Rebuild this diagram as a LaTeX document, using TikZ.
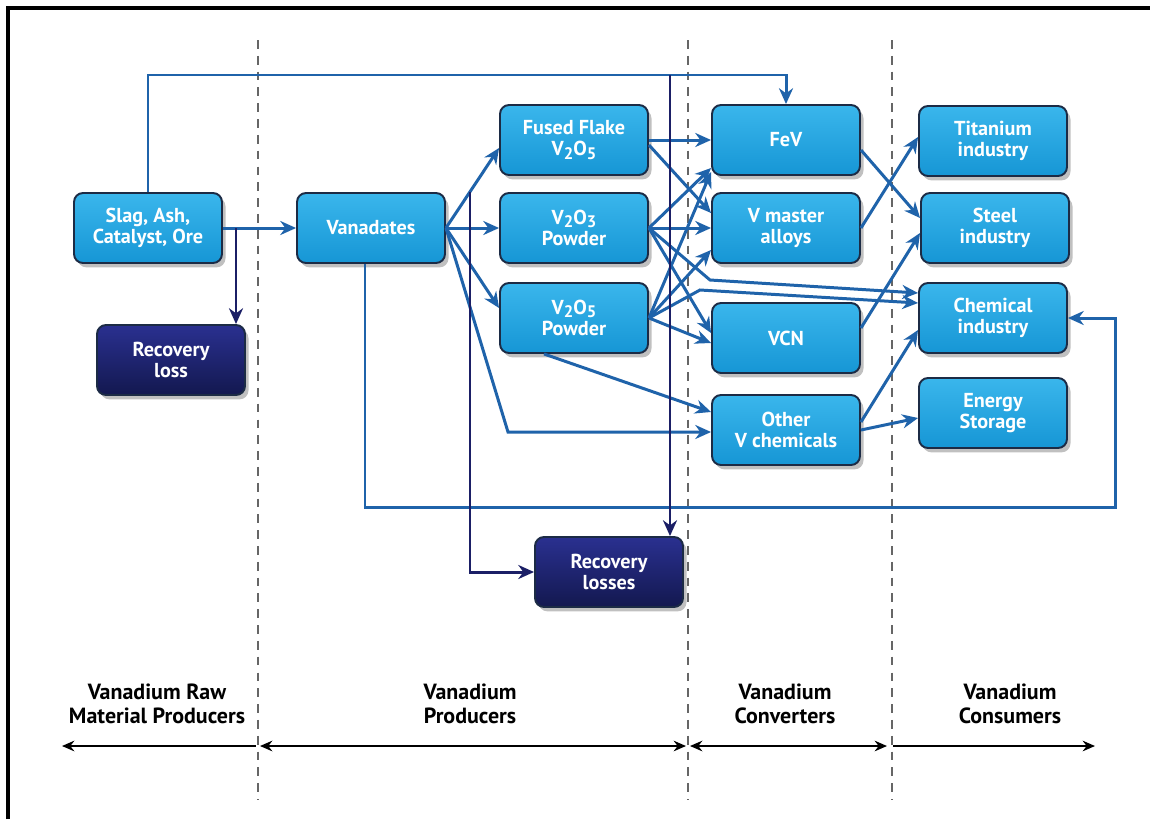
\documentclass[tikz,border=0pt]{standalone}
\usepackage{fontspec}
\setmainfont{PT Sans}
\usetikzlibrary{arrows.meta,shadows}
\definecolor{boxtop}{HTML}{3AB6EC}
\definecolor{boxbot}{HTML}{1696D5}
\definecolor{edgecol}{HTML}{1C2B45}
\definecolor{darktop}{HTML}{2A3090}
\definecolor{darkbot}{HTML}{13184F}
\definecolor{flowblue}{HTML}{1F63AA}
\definecolor{navy}{HTML}{1B1F66}
\newcommand{\boxfont}{\fontsize{11.5}{12.2}\selectfont\bfseries}
\newcommand{\labfont}{\fontsize{12.5}{13.8}\selectfont\bfseries}
\newcommand{\lowidx}[1]{\raisebox{-0.35ex}{\fontsize{9.5}{9.5}\selectfont #1}}
\tikzset{
  bluebox/.style={draw=edgecol, line width=1.1pt, rounded corners=0.18cm,
    top color=boxtop, bottom color=boxbot, minimum width=2.96cm,
    minimum height=1.4cm, align=center, text=white, font=\boxfont,
    inner sep=1pt,
    drop shadow={shadow xshift=2pt, shadow yshift=-2.5pt, opacity=0.35, fill=black!70}},
  darkbox/.style={bluebox, top color=darktop, bottom color=darkbot},
  flow/.style={draw=flowblue, line width=1.7pt, -{Stealth[length=9pt,width=8pt]}},
  lossflow/.style={draw=navy, line width=1.7pt, -{Stealth[length=9pt,width=8pt]}},
  divider/.style={draw=black!60, line width=0.7pt, dash pattern=on 5pt off 4pt},
  spanline/.style={draw=black, line width=1.4pt},
  grouplabel/.style={align=center, font=\labfont, text=black}
}
\begin{document}
\begin{tikzpicture}[x=0.02cm, y=-0.02cm]
\useasboundingbox (0,0) rectangle (1150,819);
\fill[white] (0,0) rectangle (1150,819);
% frame (top and left edges)
\draw[black, line width=2.2pt] (8,819) -- (8,8) -- (1150,8);

% dividers
\foreach \xx/\nm in {258/d1, 688/d2, 892/d3}{
  \coordinate (\nm top) at (\xx,40);
  \coordinate (\nm bot) at (\xx,800);
  \draw[divider] (\nm top) -- (\nm bot);
}

% nodes
\node[bluebox] (slag) at (148,228) {Slag, Ash,\\Catalyst, Ore};
\node[darkbox] (rloss) at (171,360) {Recovery\\loss};
\node[bluebox] (van) at (371,228) {Vanadates};
\node[bluebox] (ff) at (574,140) {Fused Flake\\V\lowidx{2}O\lowidx{5}};
\node[bluebox] (v2o3) at (574,228) {V\lowidx{2}O\lowidx{3}\\Powder};
\node[bluebox] (v2o5) at (574,318) {V\lowidx{2}O\lowidx{5}\\Powder};
\node[bluebox] (fev) at (786,140) {FeV};
\node[bluebox] (vma) at (786,228) {V master\\alloys};
\node[bluebox] (vcn) at (786,338) {VCN};
\node[bluebox] (ovc) at (786,430) {Other\\V chemicals};
\node[bluebox] (ti) at (993,141) {Titanium\\industry};
\node[bluebox] (steel) at (995,228) {Steel\\industry};
\node[bluebox] (chem) at (993,318) {Chemical\\industry};
\node[bluebox] (energy) at (993,413) {Energy\\Storage};
\node[darkbox] (rlosses) at (609,572) {Recovery\\losses};

% helper coordinates
\coordinate (topline) at (0,75);
\coordinate (j1) at (236,228);
\coordinate (j2) at (470,192);
\coordinate (j3) at (670,75);
\coordinate (bend1) at (508,432);
\coordinate (loopBL) at (365,507);
\coordinate (loopBR) at (1115,507);
\coordinate (c3a) at (710,280);
\coordinate (c3b) at (700,290);

% raw material flows
\draw[flow] (slag.north) -- (slag.north |- topline) -| (fev.north);
\draw[flow] (slag) -- (van);
\draw[lossflow] (j1) -- (j1 |- rloss.north);

% vanadates flows
\draw[flow] (van.east) -- ([yshift=-0.16cm]ff.west);
\draw[flow] (van) -- (v2o3);
\draw[flow] (van.east) -- ([yshift=0.2cm]v2o5.west);
\draw[flow] (van.east) -- (bend1) -- (ovc.west |- bend1);
\draw[flow] (van.south -| loopBL) -- (loopBL) -- (loopBR) |- (chem.east);

% producer -> converter flows
\draw[flow] (ff) -- (fev);
\draw[flow] ([yshift=-0.1cm]ff.east) -- ([yshift=0.3cm]vma.west);
\draw[flow] (v2o3.east) -- ([yshift=-0.56cm]fev.west);
\draw[flow] (v2o3) -- (vma);
\draw[flow] (v2o3.east) -- ([yshift=0.1cm]vcn.west);
\draw[flow] (v2o3.east) -- (c3a) -- ([yshift=0.5cm]chem.west);
\draw[flow] (v2o5.east) -- ([yshift=-0.64cm]fev.west);
\draw[flow] (v2o5.east) -- ([yshift=-0.44cm]vma.west);
\draw[flow] (v2o5.east) -- (c3b) -- ([yshift=0.3cm]chem.west);
\draw[flow] (v2o5.east) -- ([yshift=-0.1cm]vcn.west);
\draw[flow] ([xshift=-0.6cm]v2o5.south) -- ([yshift=0.36cm]ovc.west);

% converter -> consumer flows
\draw[flow] ([yshift=-0.2cm]fev.east) -- ([yshift=0.2cm]steel.west);
\draw[flow] (vma.east) -- ([yshift=0.08cm]ti.west);
\draw[flow] ([yshift=0.2cm]vcn.east) -- ([yshift=-0.1cm]steel.west);
\draw[flow] ([yshift=0.16cm]ovc.east) -- ([yshift=-0.24cm]chem.west);
\draw[flow] (ovc.east) -- ([yshift=-0.1cm]energy.west);

% recovery losses
\draw[lossflow] (j2) |- (rlosses.west);
\draw[lossflow] (j3) -- (j3 |- rlosses.north);

% group labels
\node[grouplabel] (lraw) at (157,704) {Vanadium Raw\\Material Producers};
\node[grouplabel] (lprod) at (470,704) {Vanadium\\Producers};
\node[grouplabel] (lconv) at (785,704) {Vanadium\\Converters};
\node[grouplabel] (lcons) at (1010,704) {Vanadium\\Consumers};

\coordinate (s0) at (62,746);
\coordinate (s1) at (256,746);
\coordinate (s2) at (260,746);
\coordinate (s3) at (686,746);
\coordinate (s4) at (690,746);
\coordinate (s5) at (887,746);
\coordinate (s6) at (893,746);
\coordinate (s7) at (1095,746);
\draw[spanline, {Stealth[length=7pt,width=6pt]}-] (s0) -- (s1);
\draw[spanline, {Stealth[length=7pt,width=6pt]}-{Stealth[length=7pt,width=6pt]}] (s2) -- (s3);
\draw[spanline, {Stealth[length=7pt,width=6pt]}-{Stealth[length=7pt,width=6pt]}] (s4) -- (s5);
\draw[spanline, -{Stealth[length=7pt,width=6pt]}] (s6) -- (s7);
\end{tikzpicture}
\end{document}
